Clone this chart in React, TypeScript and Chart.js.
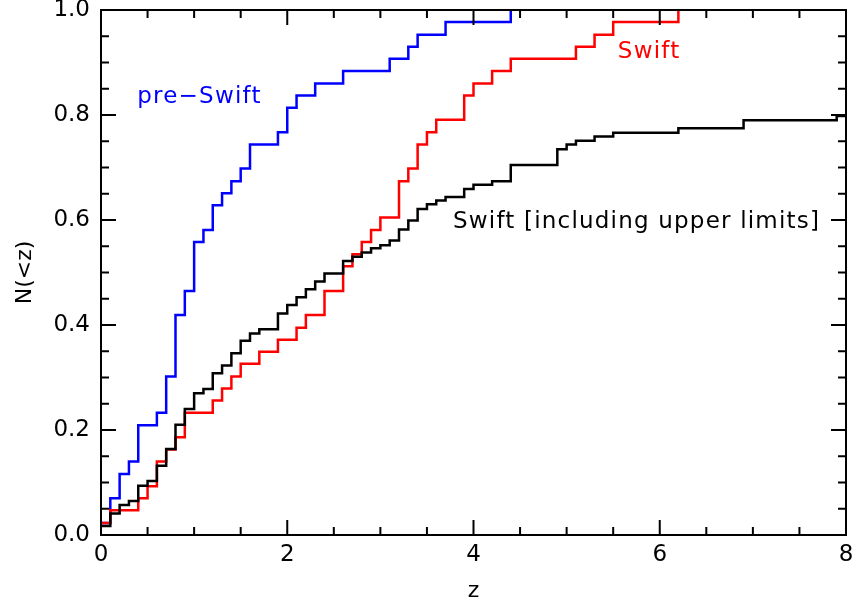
import React, { useEffect, useRef } from "react";
import { Chart, registerables } from "chart.js";

Chart.register(...registerables);

// pre-Swift cumulative redshift distribution (step positions and fractions)
const PRE_SWIFT_Z = [0, 0.1, 0.2, 0.3, 0.4, 0.6, 0.7, 0.8, 0.9, 1.0, 1.1, 1.2, 1.3, 1.4, 1.5, 1.6, 1.9, 2.0, 2.1, 2.3, 2.6, 3.1, 3.3, 3.4, 3.7, 4.4];
const PRE_SWIFT_N = [0.023, 0.070, 0.116, 0.140, 0.209, 0.233, 0.302, 0.419, 0.465, 0.558, 0.581, 0.628, 0.651, 0.674, 0.698, 0.744, 0.767, 0.814, 0.837, 0.860, 0.884, 0.907, 0.930, 0.953, 0.977, 1.0];

// Swift (measured redshifts)
const SWIFT_Z = [0, 0.1, 0.4, 0.5, 0.6, 0.7, 0.8, 0.9, 1.2, 1.3, 1.4, 1.5, 1.7, 1.9, 2.1, 2.2, 2.4, 2.6, 2.7, 2.8, 2.9, 3.0, 3.2, 3.3, 3.4, 3.5, 3.6, 3.9, 4.0, 4.2, 4.4, 5.1, 5.3, 5.5, 6.2];
const SWIFT_N = [0.023, 0.047, 0.070, 0.093, 0.140, 0.163, 0.186, 0.233, 0.256, 0.279, 0.302, 0.326, 0.349, 0.372, 0.395, 0.419, 0.465, 0.512, 0.535, 0.558, 0.581, 0.605, 0.674, 0.698, 0.744, 0.767, 0.791, 0.837, 0.860, 0.884, 0.907, 0.930, 0.953, 0.977, 1.0];

// Swift including upper limits
const SWIFT_UL_Z = [0, 0.1, 0.2, 0.3, 0.4, 0.5, 0.6, 0.7, 0.8, 0.9, 1.0, 1.1, 1.2, 1.3, 1.4, 1.5, 1.6, 1.7, 1.9, 2.0, 2.1, 2.2, 2.3, 2.4, 2.6, 2.7, 2.8, 2.9, 3.0, 3.1, 3.2, 3.3, 3.4, 3.5, 3.6, 3.7, 3.9, 4.0, 4.2, 4.4, 4.9, 5.0, 5.1, 5.3, 5.5, 6.2, 6.9, 7.9, 8.0];
const SWIFT_UL_N = [0.017, 0.041, 0.057, 0.065, 0.094, 0.103, 0.132, 0.164, 0.210, 0.240, 0.270, 0.278, 0.308, 0.323, 0.346, 0.370, 0.384, 0.392, 0.422, 0.438, 0.453, 0.468, 0.483, 0.498, 0.522, 0.530, 0.538, 0.546, 0.552, 0.561, 0.582, 0.599, 0.621, 0.630, 0.637, 0.644, 0.659, 0.667, 0.674, 0.705, 0.735, 0.744, 0.751, 0.759, 0.766, 0.775, 0.790, 0.798, 0.798];

const X_TICKS = [0, 2, 4, 6, 8];
const Y_TICKS = [0, 0.2, 0.4, 0.6, 0.8, 1.0];

const LABEL_TEXTS = ["pre\u2212Swift", "Swift", "Swift [including upper limits]"];
const LABEL_Z = [0.39, 5.55, 3.78];
const LABEL_N = [0.834, 0.92, 0.596];
const LABEL_COLORS = ["#0000ff", "#ff0000", "#000000"];

const FONT = '"DejaVu Sans", sans-serif';

const toPts = (zs: number[], ns: number[]) => zs.map((z, i) => ({ x: z, y: ns[i] }));

const frameTicks = {
  id: "frameTicks",
  afterDatasetsDraw(chart: any) {
    const { ctx, chartArea, scales } = chart;
    const { left, right, top, bottom } = chartArea;
    const x = scales.x;
    const y = scales.y;
    ctx.save();
    ctx.strokeStyle = "#000";
    ctx.lineWidth = 2;
    ctx.strokeRect(left, top, right - left, bottom - top);
    ctx.beginPath();
    for (let i = 0; i <= 16; i++) {
      const v = i * 0.5;
      const px = x.getPixelForValue(v);
      const len = i % 4 === 0 ? 15 : 8;
      ctx.moveTo(px, bottom);
      ctx.lineTo(px, bottom - len);
      ctx.moveTo(px, top);
      ctx.lineTo(px, top + len);
    }
    for (let i = 0; i <= 20; i++) {
      const v = i * 0.05;
      const py = y.getPixelForValue(v);
      const len = i % 4 === 0 ? 15 : 8;
      ctx.moveTo(left, py);
      ctx.lineTo(left + len, py);
      ctx.moveTo(right, py);
      ctx.lineTo(right - len, py);
    }
    ctx.stroke();

    ctx.font = `23px ${FONT}`;
    ctx.textAlign = "left";
    ctx.textBaseline = "middle";
    try {
      (ctx as any).letterSpacing = "1.2px";
    } catch (e) {}
    LABEL_TEXTS.forEach((t, i) => {
      ctx.fillStyle = LABEL_COLORS[i];
      ctx.fillText(t, x.getPixelForValue(LABEL_Z[i]), y.getPixelForValue(LABEL_N[i]));
    });
    ctx.restore();
  },
};

export default function App() {
  const ref = useRef<HTMLCanvasElement | null>(null);

  useEffect(() => {
    if (!ref.current) return;
    const tickFont = { family: FONT, size: 23 };
    const chart = new Chart(ref.current, {
      type: "line",
      data: {
        datasets: [
          {
            label: "Swift [including upper limits]",
            data: toPts(SWIFT_UL_Z, SWIFT_UL_N),
            borderColor: "#000000",
            borderWidth: 2.5,
            pointRadius: 0,
            stepped: "before",
            fill: false,
          },
          {
            label: "Swift",
            data: toPts(SWIFT_Z, SWIFT_N),
            borderColor: "#ff0000",
            borderWidth: 2.5,
            pointRadius: 0,
            stepped: "before",
            fill: false,
          },
          {
            label: "pre-Swift",
            data: toPts(PRE_SWIFT_Z, PRE_SWIFT_N),
            borderColor: "#0000ff",
            borderWidth: 2.5,
            pointRadius: 0,
            stepped: "before",
            fill: false,
          },
        ],
      },
      options: {
        responsive: false,
        animation: false,
        devicePixelRatio: 1,
        layout: { padding: { top: 10, right: 6, left: 0, bottom: 0 } },
        plugins: {
          legend: { display: false },
          tooltip: { enabled: false },
        },
        scales: {
          x: {
            type: "linear",
            min: 0,
            max: 8,
            afterBuildTicks: (s: any) => {
              s.ticks = X_TICKS.map((v) => ({ value: v }));
            },
            afterFit: (s: any) => {
              s.height = 69;
              s.paddingLeft = 0;
              s.paddingRight = 0;
            },
            ticks: {
              font: tickFont,
              color: "#000",
              padding: 6,
              maxRotation: 0,
              autoSkip: false,
              callback: (v: any) => String(v),
            },
            grid: { display: false, drawTicks: false },
            border: { display: false },
            title: {
              display: true,
              text: "z",
              font: { family: FONT, size: 22 },
              color: "#000",
              padding: { top: 0, bottom: 0 },
            },
          },
          y: {
            type: "linear",
            min: 0,
            max: 1,
            afterBuildTicks: (s: any) => {
              s.ticks = Y_TICKS.map((v) => ({ value: v }));
            },
            afterFit: (s: any) => {
              s.width = 101;
              s.paddingTop = 0;
              s.paddingBottom = 0;
            },
            ticks: {
              font: tickFont,
              color: "#000",
              padding: 11,
              autoSkip: false,
              callback: (v: any) => Number(v).toFixed(1),
            },
            grid: { display: false, drawTicks: false },
            border: { display: false },
            title: {
              display: true,
              text: "N(<z)",
              font: { family: FONT, size: 22 },
              color: "#000",
              padding: { top: 12, bottom: 0 },
            },
          },
        },
      },
      plugins: [frameTicks],
    });
    return () => chart.destroy();
  }, []);

  return (
    <div style={{ position: "absolute", left: 0, top: 0, width: 852, height: 604, background: "#fff" }}>
      <canvas ref={ref} width={852} height={604} style={{ width: 852, height: 604 }} />
    </div>
  );
}
